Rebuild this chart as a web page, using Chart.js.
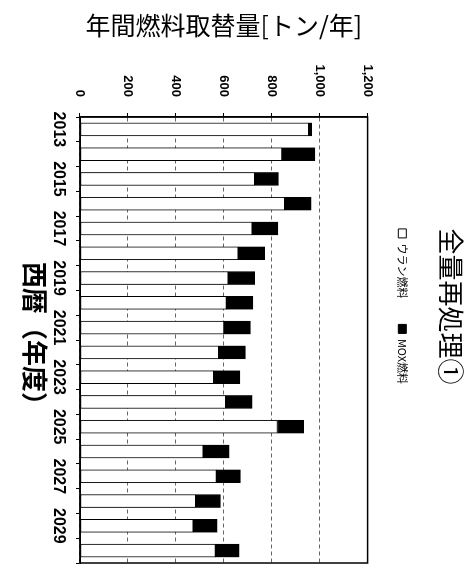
<!DOCTYPE html>
<html lang="ja">
<head>
<meta charset="utf-8">
<title>全量再処理①</title>
<script src="https://cdn.jsdelivr.net/npm/chart.js@4/dist/chart.umd.min.js"></script>
<style>
  html, body { margin: 0; padding: 0; background: #fff; }
  #wrap { position: relative; width: 475px; height: 583px; overflow: hidden; }
  /* the scanned page is turned a quarter clockwise */
  #fuelChart {
    position: absolute; left: 0; top: 0;
    transform-origin: 0 0;
    transform: translate(475px, 0) rotate(90deg);
  }
</style>
</head>
<body>
<div id="wrap">
  <canvas id="fuelChart" width="583" height="475"></canvas>
</div>
<script>
// values (tons per year)
const years = ['2013', '2014', '2015', '2016', '2017', '2018', '2019', '2020', '2021',
  '2022', '2023', '2024', '2025', '2026', '2027', '2028', '2029', '2030'];
const uraniumFuel = [954, 843, 729, 854, 718, 660, 618, 611, 601, 579, 558, 608, 824, 514, 569, 483, 472, 565];
const moxFuel = [13, 137, 99, 111, 108, 111, 111, 111, 110, 111, 109, 110, 109, 108, 100, 103, 100, 99];
const valueTicks = [0, 200, 400, 600, 800, 1000, 1200];

const numFont = "'Liberation Sans', Arial, sans-serif";
const jpFont = "'Noto Sans CJK JP', sans-serif";

// black frame round the plot area
const frame = {
  id: 'frame',
  afterDraw(chart) {
    const a = chart.chartArea;
    const ctx = chart.ctx;
    ctx.save();
    ctx.strokeStyle = '#000';
    ctx.lineWidth = 1.5;
    ctx.strokeRect(a.left, a.top, a.right - a.left, a.bottom - a.top);
    ctx.restore();
  }
};

window.onload = function () {
  Chart.defaults.color = '#000';
  Chart.defaults.font.family = jpFont;
  const ctx = document.getElementById('fuelChart').getContext('2d');

  new Chart(ctx, {
    type: 'bar',
    data: {
      labels: years,
      datasets: [
        {
          label: 'ウラン燃料',
          data: uraniumFuel,
          backgroundColor: '#fff',
          borderColor: '#000',
          borderWidth: 1,
          borderSkipped: false
        },
        {
          label: 'MOX燃料',
          data: moxFuel,
          backgroundColor: '#000',
          borderColor: '#000',
          borderWidth: 1,
          borderSkipped: false
        }
      ]
    },
    options: {
      responsive: false,
      devicePixelRatio: 1,
      animation: false,
      barThickness: 13,
      layout: { padding: { left: 50, right: 20, top: 0, bottom: 0 } },
      plugins: {
        title: {
          display: true,
          text: '全量再処理①',
          font: { size: 26, weight: 'normal' },
          padding: { top: 9, bottom: 1 }
        },
        legend: {
          position: 'top',
          labels: {
            boxWidth: 9,
            boxHeight: 8,
            padding: 26,
            font: { size: 11 }
          }
        },
        // empty line as spacer between legend and plot
        subtitle: {
          display: true,
          text: '',
          weight: 500,
          padding: 0,
          font: { size: 16 }
        },
        tooltip: { enabled: false }
      },
      scales: {
        x: {
          stacked: true,
          grid: { drawOnChartArea: false, tickLength: 4, tickColor: '#000' },
          border: { color: '#000', width: 1.5 },
          ticks: {
            autoSkip: false,
            maxRotation: 0,
            padding: 8,
            font: { family: numFont, size: 16, weight: 'bold' },
            callback: (v, i) => (i % 2 === 0 ? years[i] : '')
          },
          title: {
            display: true,
            text: '西暦（年度）',
            font: { size: 26, weight: 'bold' },
            padding: { top: 0, bottom: 19 }
          },
          afterFit: (scale) => { scale.height = 80; }
        },
        y: {
          stacked: true,
          min: valueTicks[0],
          max: valueTicks[valueTicks.length - 1],
          afterBuildTicks: (scale) => { scale.ticks = valueTicks.map(v => ({ value: v })); },
          grid: { color: '#666', tickLength: 4, tickColor: '#000' },
          border: { color: '#000', width: 1.5, dash: [4, 3] },
          ticks: {
            padding: 16,
            font: { family: numFont, size: 13, weight: 'bold' },
            callback: (v) => v.toLocaleString('en-US')
          },
          title: {
            display: true,
            text: '年間燃料取替量[トン/年]',
            font: { size: 25, weight: 'normal' },
            padding: { top: -40, bottom: 0 }
          },
          afterFit: (scale) => { scale.width = 67; }
        }
      }
    },
    plugins: [frame]
  });
};
</script>
</body>
</html>
